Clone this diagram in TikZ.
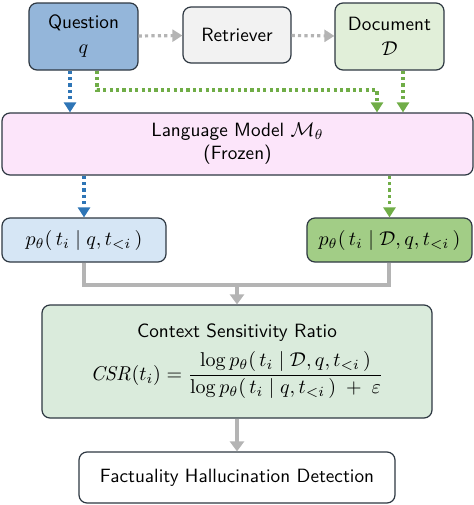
\documentclass[tikz,border=0pt]{standalone}
\usepackage{amsmath}
\usetikzlibrary{arrows.meta,positioning}

\definecolor{qfill}{HTML}{94B6DA}
\definecolor{dfill}{HTML}{E1EFD9}
\definecolor{lmfill}{HTML}{FCE5FA}
\definecolor{pqfill}{HTML}{D6E6F5}
\definecolor{pdfill}{HTML}{A2CD86}
\definecolor{csrfill}{HTML}{DAEBDC}
\definecolor{rfill}{HTML}{F2F2F2}
\definecolor{edge}{HTML}{2E3842}
\definecolor{qblue}{HTML}{2E75B6}
\definecolor{dgreen}{HTML}{70AD47}
\definecolor{lgray}{HTML}{B4B4B4}

\begin{document}
\begin{tikzpicture}[x=1pt,y=1pt,
    font=\fontsize{9.6}{11.5}\selectfont\sffamily,
    box/.style={draw=edge,line width=0.6pt,rounded corners=4pt,align=center,
        inner sep=0pt},
    dots/.style={line width=1.6pt,dash pattern=on 1.6pt off 1.6pt,
        -{Triangle[length=5pt,width=6pt]}},
    flow/.style={draw=lgray,line width=2pt},
    ]
    \useasboundingbox (0,0) rectangle (237,-252.5);
    % inputs
    \node (Q) [box,fill=qfill,minimum width=54.5pt,minimum height=33.5pt]
        at (41.75,-18.25) {Question\\[1pt]$q$};
    \node (R) [box,fill=rfill,minimum width=54pt,minimum height=28pt]
        at (118.5,-17.5) {Retriever};
    \node (D) [box,fill=dfill,minimum width=54.5pt,minimum height=33.5pt]
        at (194.75,-18.25) {Document\\[1pt]$\mathcal{D}$};
    % model
    \node (LM) [box,fill=lmfill,minimum width=235.5pt,minimum height=31pt]
        at (118.75,-72) {Language Model $\mathcal{M}_\theta$\\(Frozen)};
    % likelihoods
    \node (PQ) [box,fill=pqfill,minimum width=82pt,minimum height=22pt]
        at (42,-120) {$p_\theta(\,t_i \mid q, t_{<i}\,)$};
    \node (PD) [box,fill=pdfill,minimum width=82.5pt,minimum height=22pt]
        at (194.75,-120) {$p_\theta(\,t_i \mid \mathcal{D}, q, t_{<i}\,)$};
    % ratio
    \node (CSR) [box,fill=csrfill,minimum width=195pt,minimum height=56.5pt]
        at (118.5,-180.75) {Context Sensitivity Ratio\\[4pt]
        $\mathit{CSR}(t_i) = \dfrac{\log p_\theta(\,t_i \mid \mathcal{D}, q, t_{<i}\,)}
        {\log p_\theta(\,t_i \mid q, t_{<i}\,) \;+\; \varepsilon}$};
    \node (FHD) [box,fill=white,minimum width=158pt,minimum height=25.5pt]
        at (118.5,-238.75) {Factuality Hallucination Detection};
    % retrieval
    \draw[dots,lgray] (Q) -- (R);
    \draw[dots,lgray] (R) -- (D);
    % into the model
    \draw[dots,qblue] (Q.south -| 35,0) -- (LM.north -| 35,0);
    \draw[dots,dgreen] (Q.south -| 48.5,0) |- (188.5,-45) -- (LM.north -| 188.5,0);
    \draw[dots,dgreen] (D.south -| 201.5,0) -- (LM.north -| 201.5,0);
    % out of the model
    \draw[dots,qblue] (LM.south -| PQ) -- (PQ);
    \draw[dots,dgreen] (LM.south -| PD) -- (PD);
    % combine
    \coordinate (J) at (118.5,-142.5);
    \draw[flow] (PQ) |- (J) -| (PD);
    \draw[flow,-{Triangle[length=5pt,width=7pt]},lgray] (J) -- (CSR);
    \draw[flow,-{Triangle[length=5pt,width=7pt]},lgray] (CSR) -- (FHD);
\end{tikzpicture}
\end{document}
